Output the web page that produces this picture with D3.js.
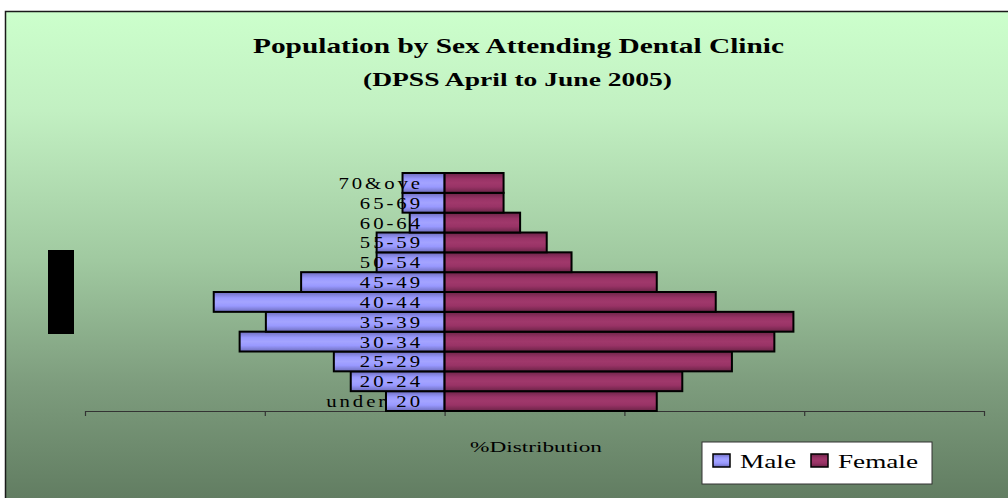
<!DOCTYPE html>
<html><head><meta charset="utf-8">
<script src="https://cdn.jsdelivr.net/npm/d3@7/dist/d3.min.js"></script>
<style>html,body{margin:0;padding:0;background:#fff;overflow:hidden}svg{display:block}</style>
</head><body>
<script>
const categories = ["under 20","20-24","25-29","30-34","35-39","40-44","45-49","50-54","55-59","60-64","65-69","70&ove"];
const maleValues = [1.63,2.61,3.08,5.70,4.97,6.42,3.99,1.89,1.89,0.97,1.17,1.17];
const femaleValues = [5.90,6.61,7.99,9.17,9.70,7.54,5.90,3.53,2.84,2.10,1.64,1.64];
const tickValues = [-10,-5,0,5,10,15];
const seriesNames = ["Male","Female"];

const W = 1008, H = 498;
const svg = d3.select("body").append("svg").attr("width", W).attr("height", H);
const defs = svg.append("defs");

const bg = defs.append("linearGradient").attr("id","bg").attr("x1",0).attr("y1",0).attr("x2",0).attr("y2",1);
bg.append("stop").attr("offset","0%").attr("stop-color","#ccffcc");
bg.append("stop").attr("offset","20%").attr("stop-color","#c2f0c2");
bg.append("stop").attr("offset","50%").attr("stop-color","#a0c9a0");
bg.append("stop").attr("offset","75%").attr("stop-color","#7d9c7d");
bg.append("stop").attr("offset","100%").attr("stop-color","#5f7a5f");

function barGrad(id, dark, mid, light){
  const g = defs.append("linearGradient").attr("id",id).attr("x1",0).attr("y1",0).attr("x2",0).attr("y2",1);
  g.append("stop").attr("offset","0%").attr("stop-color",dark);
  g.append("stop").attr("offset","30%").attr("stop-color",mid);
  g.append("stop").attr("offset","50%").attr("stop-color",light);
  g.append("stop").attr("offset","70%").attr("stop-color",mid);
  g.append("stop").attr("offset","100%").attr("stop-color",dark);
}
barGrad("gm","#6d6dbb","#9999ff","#a4a4ff");
barGrad("gf","#6b2447","#993366","#a0386b");

// background + border
svg.append("rect").attr("x",5.5).attr("y",11.5).attr("width",W).attr("height",H)
  .attr("fill","url(#bg)").attr("stroke","#1a1a1a").attr("stroke-width",1.5);

// titles
svg.append("text").attr("x",518.5).attr("y",52.5).attr("text-anchor","middle")
  .attr("font-family","'Liberation Serif', serif").attr("font-weight","bold").attr("font-size",22)
  .attr("textLength",531).attr("lengthAdjust","spacingAndGlyphs")
  .text("Population by Sex Attending Dental Clinic");
svg.append("text").attr("x",517.5).attr("y",86).attr("text-anchor","middle")
  .attr("font-family","'Liberation Serif', serif").attr("font-weight","bold").attr("font-size",18.5)
  .attr("textLength",309).attr("lengthAdjust","spacingAndGlyphs")
  .text("(DPSS April to June 2005)");

// black box (y-axis title placeholder)
svg.append("rect").attr("x",48).attr("y",250).attr("width",26).attr("height",84).attr("fill","#000");

const x = d3.scaleLinear().domain([-10,15]).range([85,984]);
const y = d3.scaleBand().domain(categories.slice().reverse()).range([173,411]).padding(0);

// axis
const axis = svg.append("g").attr("transform","translate(0,411)")
  .call(d3.axisBottom(x).tickValues(tickValues).tickFormat("").tickSizeInner(5).tickSizeOuter(0));
axis.select(".domain").attr("stroke","#333").attr("stroke-width",1.2);
axis.selectAll(".tick line").attr("stroke","#333").attr("stroke-width",1.2);

const bars = svg.append("g");
bars.selectAll("rect.m").data(categories).join("rect").attr("class","m")
  .attr("x",(d,i)=>x(-maleValues[i])).attr("y",d=>y(d))
  .attr("width",(d,i)=>x(0)-x(-maleValues[i])).attr("height",y.bandwidth())
  .attr("fill","url(#gm)").attr("stroke","#000").attr("stroke-width",2);
bars.selectAll("rect.f").data(categories).join("rect").attr("class","f")
  .attr("x",x(0)).attr("y",d=>y(d))
  .attr("width",(d,i)=>x(femaleValues[i])-x(0)).attr("height",y.bandwidth())
  .attr("fill","url(#gf)").attr("stroke","#000").attr("stroke-width",2);

// category labels
svg.append("g").selectAll("text").data(categories).join("text")
  .attr("transform",d=>`translate(423,${y(d)+y.bandwidth()/2+6}) scale(1.18,1)`)
  .attr("text-anchor","end")
  .attr("font-family","'Liberation Serif', serif").attr("font-size",17.6)
  .attr("letter-spacing",2.5)
  .attr("fill","#000")
  .text(d=>d);

// axis title
svg.append("text").attr("x",536).attr("y",452).attr("text-anchor","middle")
  .attr("font-family","'Liberation Serif', serif").attr("font-size",15)
  .attr("textLength",132).attr("lengthAdjust","spacingAndGlyphs")
  .text("%Distribution");

// legend
const lg = svg.append("g");
lg.append("rect").attr("x",702).attr("y",442).attr("width",230).attr("height",42)
  .attr("fill","#fff").attr("stroke","#333").attr("stroke-width",1);
const legendItems = [
  {name:seriesNames[0], fill:"url(#gm)", sx:713, tx:740, tl:56},
  {name:seriesNames[1], fill:"url(#gf)", sx:811, tx:838, tl:80}
];
legendItems.forEach(it=>{
  lg.append("rect").attr("x",it.sx).attr("y",454).attr("width",17).attr("height",13)
    .attr("fill",it.fill).attr("stroke","#000").attr("stroke-width",1.5);
  lg.append("text").attr("x",it.tx).attr("y",468)
    .attr("font-family","'Liberation Serif', serif").attr("font-size",19)
    .attr("textLength",it.tl).attr("lengthAdjust","spacingAndGlyphs")
    .text(it.name);
});
</script>
</body></html>
